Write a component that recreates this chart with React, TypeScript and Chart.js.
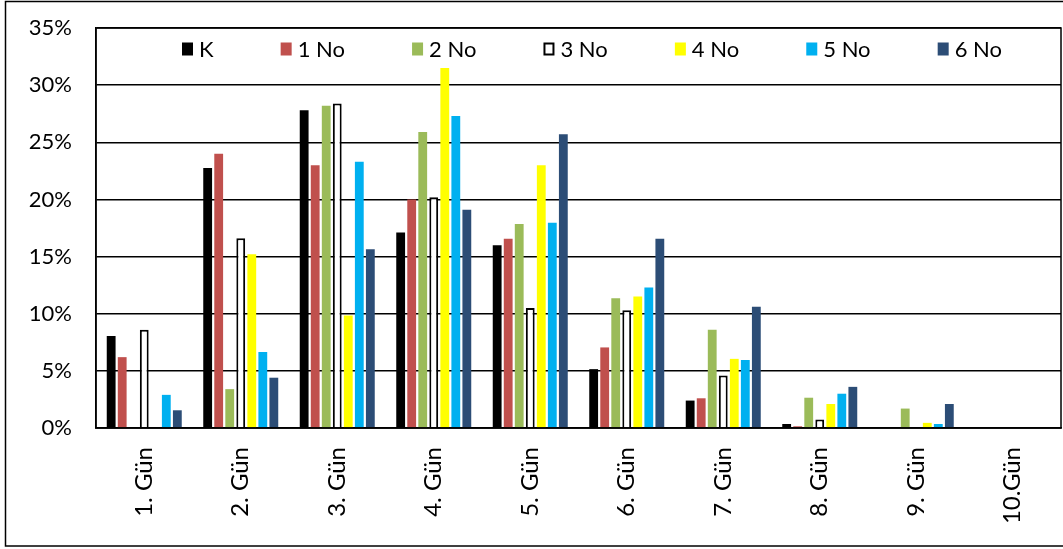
import React, { useEffect, useRef } from "react";
import { Chart, registerables } from "chart.js";

Chart.register(...registerables);

const categories = ["1. Gün", "2. Gün", "3. Gün", "4. Gün", "5. Gün", "6. Gün", "7. Gün", "8. Gün", "9. Gün", "10.Gün"];
const seriesNames = ["K", "1 No", "2 No", "3 No", "4 No", "5 No", "6 No"];
const valuesK = [8.05, 22.75, 27.8, 17.1, 16.0, 5.15, 2.4, 0.35, 0, 0];
const values1No = [6.2, 24.0, 23.0, 20.0, 16.55, 7.05, 2.6, 0.15, 0, 0];
const values2No = [0, 3.4, 28.2, 25.9, 17.85, 11.35, 8.6, 2.65, 1.7, 0];
const values3No = [8.6, 16.6, 28.4, 20.2, 10.5, 10.3, 4.6, 0.75, 0, 0];
const values4No = [0, 15.2, 9.85, 31.5, 23.0, 11.5, 6.05, 2.1, 0.45, 0];
const values5No = [2.9, 6.65, 23.3, 27.3, 17.95, 12.3, 5.95, 3.0, 0.35, 0];
const values6No = [1.55, 4.4, 15.65, 19.1, 25.7, 16.55, 10.6, 3.6, 2.1, 0];
const yTicks = [0, 5, 10, 15, 20, 25, 30, 35];

const fills = ["#000000", "#C0504D", "#9BBB59", "#FFFFFF", "#FFFF00", "#00B0F0", "#2C4D76"];
const borders = ["#000000", "#C0504D", "#9BBB59", "#000000", "#FFFF00", "#00B0F0", "#2C4D76"];

const FONT = "Lato, 'Open Sans', sans-serif";
const AREA = { left: 96, top: 28, right: 1061, bottom: 428 };

export default function App() {
  const ref = useRef<HTMLCanvasElement | null>(null);

  useEffect(() => {
    if (!ref.current) return;
    const allValues = [valuesK, values1No, values2No, values3No, values4No, values5No, values6No];
    const datasets = seriesNames.map((name, i) => ({
      label: name,
      data: allValues[i],
      backgroundColor: fills[i],
      borderColor: borders[i],
      borderWidth: i === 3 ? 2 : 0,
      categoryPercentage: 0.8,
      barPercentage: 0.8,
    }));

    const framePlugin = {
      id: "frame",
      beforeDraw(chart: any) {
        const c = chart.ctx;
        c.save();
        c.fillStyle = "#fff";
        c.fillRect(0, 0, chart.width, chart.height);
        c.restore();
      },
      afterDraw(chart: any) {
        const c = chart.ctx;
        const a = chart.chartArea;
        c.save();
        c.strokeStyle = "#000";
        c.lineWidth = 1.5;
        c.strokeRect(a.left, a.top, a.right - a.left, a.bottom - a.top);
        c.strokeRect(5.5, 1.5, chart.width + 10, 544.5);
        // legend
        c.font = `22px ${FONT}`;
        c.textBaseline = "middle";
        c.textAlign = "left";
        const boxW = 11, boxH = 13, tGap = 6;
        const ds = chart.data.datasets;
        const widths = ds.map((d: any) => boxW + tGap + c.measureText(d.label).width);
        const startX = a.left + 86;
        const endX = a.left + 906;
        const total = widths.reduce((s: number, w: number) => s + w, 0);
        const gap = (endX - startX - total) / (ds.length - 1);
        const cy = a.top + 21;
        let x = startX;
        ds.forEach((d: any, i: number) => {
          c.fillStyle = d.backgroundColor;
          c.fillRect(x, cy - boxH / 2, boxW, boxH);
          if (d.borderWidth > 0) {
            c.strokeStyle = "#000";
            c.lineWidth = 2;
            c.strokeRect(x + 1, cy - boxH / 2 + 1, boxW - 2, boxH - 2);
          }
          c.fillStyle = "#000";
          c.fillText(d.label, x + boxW + tGap, cy + 1);
          x += widths[i] + gap;
        });
        c.restore();
      },
    };

    const padding = { left: 0, right: 2, top: 28, bottom: 0 };
    const chart = new Chart(ref.current, {
      type: "bar",
      data: { labels: categories, datasets },
      options: {
        animation: false,
        responsive: false,
        maintainAspectRatio: false,
        layout: { padding },
        plugins: { legend: { display: false }, tooltip: { enabled: false } },
        scales: {
          x: {
            grid: { display: false, drawTicks: false },
            border: { display: true, color: "#000", width: 1.5 },
            ticks: {
              color: "#000",
              font: { family: FONT, size: 24 },
              maxRotation: 90,
              minRotation: 90,
              padding: 19,
              autoSkip: false,
            },
            afterFit(scale: any) {
              scale.height = 121;
              scale.paddingLeft = 0;
              scale.paddingRight = 0;
              scale.paddingTop = 0;
              scale.paddingBottom = 0;
            },
          },
          y: {
            min: 0,
            max: 35,
            grid: { color: "#000", lineWidth: 1.5, drawTicks: false },
            border: { display: true, color: "#000", width: 1.5 },
            afterBuildTicks(scale: any) {
              scale.ticks = yTicks.map((v) => ({ value: v }));
            },
            ticks: {
              color: "#000",
              font: { family: FONT, size: 22 },
              padding: 24,
              callback: (v: any) => `${v}%`,
            },
            afterFit(scale: any) {
              scale.width = 96;
              scale.paddingLeft = 0;
              scale.paddingRight = 0;
              scale.paddingTop = 0;
              scale.paddingBottom = 0;
            },
          },
        },
      },
      plugins: [framePlugin],
    });
    for (let k = 0; k < 3; k++) {
      const a = chart.chartArea;
      const dTop = AREA.top - a.top;
      const dLeft = AREA.left - a.left;
      const dRight = a.right - AREA.right;
      const dBottom = a.bottom - AREA.bottom;
      if (Math.abs(dTop) + Math.abs(dLeft) + Math.abs(dRight) + Math.abs(dBottom) < 0.5) break;
      padding.top = Math.max(0, padding.top + dTop);
      padding.left = Math.max(0, padding.left + dLeft);
      padding.right = Math.max(0, padding.right + dRight);
      padding.bottom = Math.max(0, padding.bottom + dBottom);
      (chart.options as any).layout.padding = { ...padding };
      chart.update();
    }
    return () => chart.destroy();
  }, []);

  return (
    <div style={{ position: "fixed", left: 0, top: 0, width: 1063, height: 549, background: "#fff" }}>
      <canvas ref={ref} width={1063} height={549} style={{ display: "block" }} />
    </div>
  );
}
